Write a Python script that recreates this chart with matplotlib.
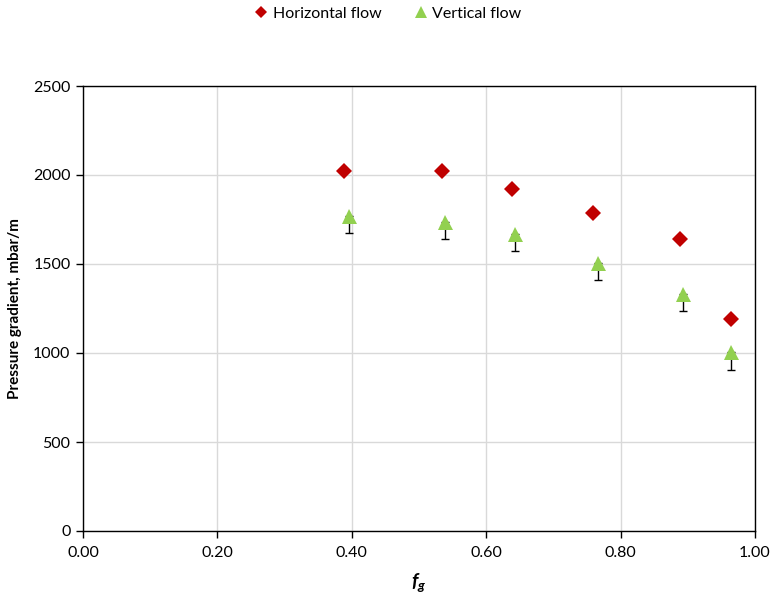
import matplotlib
matplotlib.use("Agg")
import matplotlib.pyplot as plt
from matplotlib.ticker import FixedLocator, FormatStrFormatter

plt.rcParams['font.family'] = ['Lato', 'DejaVu Sans']
plt.rcParams['mathtext.fontset'] = 'custom'
plt.rcParams['mathtext.it'] = 'Lato:italic:bold'
plt.rcParams['mathtext.rm'] = 'Lato:bold'

# Gas fraction and measured pressure gradients
fg_horizontal = [0.388, 0.534, 0.639, 0.759, 0.888, 0.964]
dp_horizontal = [2022, 2022, 1923, 1788, 1639, 1191]

fg_vertical = [0.396, 0.539, 0.643, 0.766, 0.893, 0.964]
dp_vertical = [1770, 1738, 1670, 1504, 1331, 1004]
dp_vertical_err = [98, 98, 97, 96, 97, 100]

x_ticks = [0.0, 0.2, 0.4, 0.6, 0.8, 1.0]
y_ticks = [0, 500, 1000, 1500, 2000, 2500]

fig = plt.figure(figsize=(7.75, 5.99), dpi=100)
ax = fig.add_axes([83 / 775, 1 - 531 / 599, (755 - 83) / 775, (531 - 86) / 599])

ax.errorbar(fg_vertical, dp_vertical, yerr=[dp_vertical_err, [0] * len(dp_vertical)],
            fmt='none', ecolor='black', elinewidth=1.0, capsize=2.8, capthick=1.0, zorder=2)
ax.plot(fg_horizontal, dp_horizontal, linestyle='none', marker='D', markersize=7.8,
        color='#C00000', markeredgewidth=0, label='Horizontal flow', zorder=3)
ax.plot(fg_vertical, dp_vertical, linestyle='none', marker='^', markersize=10.8,
        color='#92D050', markeredgewidth=0, label='Vertical flow', zorder=3)

ax.set_xlim(0, 1.0)
ax.set_ylim(0, 2500)
ax.xaxis.set_major_locator(FixedLocator(x_ticks))
ax.yaxis.set_major_locator(FixedLocator(y_ticks))
ax.xaxis.set_major_formatter(FormatStrFormatter('%.2f'))
ax.yaxis.set_major_formatter(FormatStrFormatter('%d'))

ax.grid(True, color='#D9D9D9', linewidth=1.0, zorder=0)
ax.set_axisbelow(True)
for side in ['left', 'bottom', 'top', 'right']:
    ax.spines[side].set_color('black')
    ax.spines[side].set_linewidth(1.0)

ax.tick_params(axis='both', direction='out', length=5, width=1.0, labelsize=11.5,
               colors='black', pad=4)
ax.tick_params(axis='x', pad=6)

ax.set_xlabel('$f_g$', fontsize=14, labelpad=8)
ax.set_ylabel('Pressure gradient, mbar/m', fontsize=11, fontweight='bold', labelpad=8)

fig.legend(loc='center', bbox_to_anchor=(0.5, 1 - 14 / 599), ncol=2, frameon=False,
           fontsize=11.5, handletextpad=0.2, columnspacing=2.0, handlelength=1.0,
           markerscale=0.78)

fig.savefig('out.png', dpi=100)
